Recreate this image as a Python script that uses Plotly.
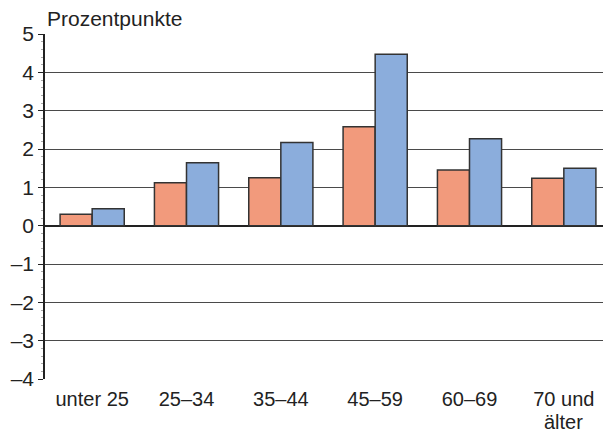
import plotly.graph_objects as go

kategorien = ["unter 25", "25–34", "35–44", "45–59", "60–69", "70 und"]
zweite_zeile = ["", "", "", "", "", "älter"]
reihe_a = [0.30, 1.12, 1.25, 2.58, 1.45, 1.24]
reihe_b = [0.44, 1.64, 2.17, 4.47, 2.27, 1.50]
y_ticks = [-4, -3, -2, -1, 0, 1, 2, 3, 4, 5]
y_labels = ["–4", "–3", "–2", "–1", "0", "1", "2", "3", "4", "5"]

fig = go.Figure()
fig.add_trace(go.Bar(
    x=list(range(len(kategorien))), y=reihe_a, name="A",
    marker=dict(color="#F29A7C", line=dict(color="#333333", width=1.5)),
))
fig.add_trace(go.Bar(
    x=list(range(len(kategorien))), y=reihe_b, name="B",
    marker=dict(color="#8BADDC", line=dict(color="#333333", width=1.5)),
))

anmerkungen = [dict(
    text="Prozentpunkte", xref="paper", yref="paper", x=0, y=1,
    xanchor="left", yanchor="bottom", yshift=2, showarrow=False,
    font=dict(size=21),
)]
# zweite Zeile der Kategorienbeschriftung etwas enger als <br>
for i, t in enumerate(zweite_zeile):
    if t:
        anmerkungen.append(dict(
            text=t, xref="x", yref="paper", x=i, y=0,
            xanchor="center", yanchor="top", yshift=-31, showarrow=False,
            font=dict(size=20), borderpad=0,
        ))

# die Seite hat 8px Rand, daher 603x426
fig.update_layout(
    width=603, height=426,
    margin=dict(l=37, r=0, t=26, b=55),
    barmode="group", bargap=0.32, bargroupgap=0,
    showlegend=False,
    plot_bgcolor="white", paper_bgcolor="white",
    font=dict(family="Liberation Sans, Arial, sans-serif", size=20, color="#222222"),
    xaxis=dict(
        range=[-0.5, 5.5], automargin=False,
        tickmode="array", tickvals=list(range(len(kategorien))), ticktext=kategorien,
        showgrid=False, zeroline=False, showline=False,
        ticks="outside", ticklen=2, tickcolor="rgba(0,0,0,0)",
        tickfont=dict(size=20),
    ),
    yaxis=dict(
        range=[-4, 5], automargin=False,
        tickmode="array", tickvals=y_ticks, ticktext=y_labels,
        showgrid=True, gridcolor="#4a4a4a", gridwidth=1.4,
        zeroline=True, zerolinecolor="#222222", zerolinewidth=2,
        showline=True, linecolor="#222222", linewidth=1.5,
        ticks="outside", ticklen=5, tickcolor="#222222",
        minor=dict(dtick=0.2, ticks="outside", ticklen=2, tickcolor="#aaaaaa", showgrid=False),
        tickfont=dict(size=21),
    ),
    annotations=anmerkungen,
)

fig.write_html("out.html")
